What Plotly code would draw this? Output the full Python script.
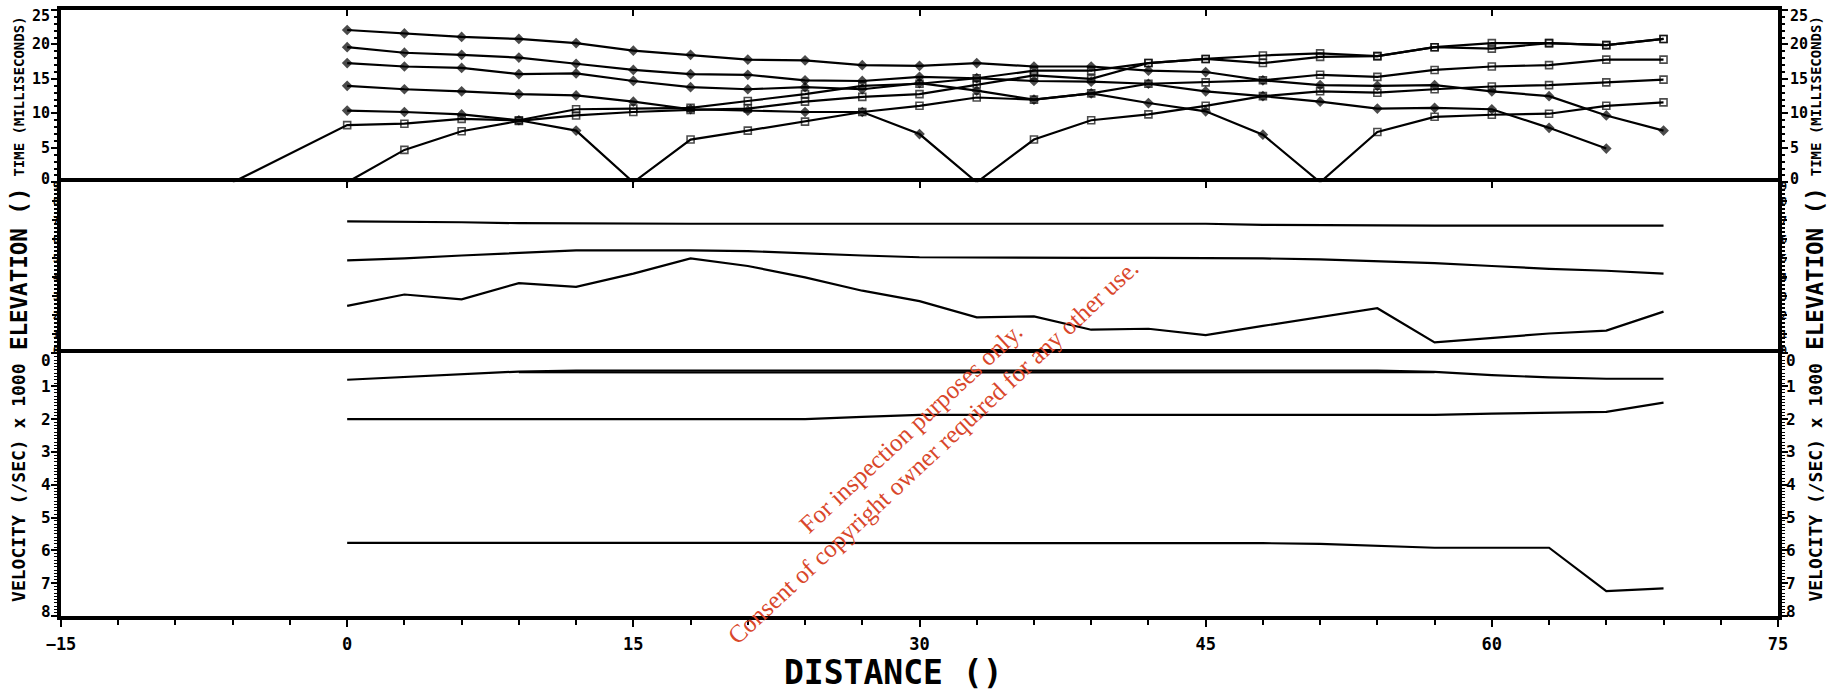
import plotly.graph_objects as go

# ---------------- data ----------------
# geophone stations along the line
stations = [0, 3, 6, 9, 12, 15, 18, 21, 24, 27, 30, 33, 36, 39, 42, 45, 48, 51, 54, 57, 60, 63, 66, 69]

# forward-shot first arrivals (ms) - open squares
fwd_a_x = [-6] + stations
fwd_a_t = [0, 8.3, 8.5, 9.2, 9.0, 10.6, 10.7, 10.8, 11.8, 12.8, 14.0, 14.3, 15.1, 16.2, 16.2,
           17.3, 17.9, 18.4, 18.7, 18.3, 19.6, 20.2, 20.2, 19.9, 20.8]
fwd_b_x = stations
fwd_b_t = [0, 4.7, 7.4, 8.9, 9.7, 10.2, 10.5, 10.7, 11.7, 12.4, 12.8, 14.2, 15.5, 15.0,
           17.3, 17.9, 17.3, 18.2, 18.3, 19.6, 19.4, 20.2, 19.9, 20.8]
fwd_c_x = stations[5:]
fwd_c_t = [0, 6.2, 7.5, 8.8, 10.2, 11.1, 12.3, 12.0, 12.9, 14.3, 14.5, 14.8, 15.6, 15.3,
           16.3, 16.8, 17.0, 17.8, 17.8]
fwd_d_x = stations[11:]
fwd_d_t = [0, 6.2, 9.0, 9.85, 11.1, 12.5, 13.2, 13.0, 13.5, 13.9, 14.1, 14.5, 14.9]
fwd_e_x = stations[17:]
fwd_e_t = [0, 7.3, 9.5, 9.8, 9.95, 11.1, 11.6]

# reverse-shot first arrivals (ms) - filled diamonds
rev_a_x = stations
rev_a_t = [22.1, 21.6, 21.1, 20.8, 20.2, 19.1, 18.5, 17.8, 17.7, 17.0, 16.9, 17.3, 16.8, 16.8,
           16.2, 16.0, 14.8, 14.1, 14.0, 14.1, 13.2, 12.5, 9.7, 7.5]
rev_b_x = stations[:23]
rev_b_t = [19.6, 18.8, 18.5, 18.1, 17.2, 16.3, 15.7, 15.6, 14.8, 14.7, 15.3, 15.1, 14.7, 14.6,
           14.3, 13.2, 12.5, 11.7, 10.7, 10.8, 10.6, 7.9, 4.9]
rev_c_x = stations[:18]
rev_c_t = [17.3, 16.8, 16.6, 15.7, 15.8, 14.7, 13.8, 13.5, 13.8, 13.5, 14.4, 13.3, 12.0, 12.9,
           11.5, 10.3, 6.9, 0]
rev_d_x = stations[:12]
rev_d_t = [14.0, 13.5, 13.2, 12.8, 12.6, 11.7, 10.6, 10.4, 10.2, 10.2, 7.0, 0]
rev_e_x = stations[:6]
rev_e_t = [10.4, 10.2, 9.85, 9.0, 7.5, 0]

# layer elevations
elev_top = [6.95, 6.93, 6.9, 6.85, 6.83, 6.82, 6.82, 6.82, 6.82, 6.82, 6.82, 6.82, 6.82, 6.82,
            6.82, 6.82, 6.76, 6.74, 6.72, 6.72, 6.72, 6.72, 6.72, 6.72]
elev_mid = [4.9, 5.0, 5.15, 5.3, 5.42, 5.42, 5.42, 5.38, 5.25, 5.15, 5.06, 5.04, 5.04, 5.03,
            5.03, 5.03, 5.0, 4.95, 4.85, 4.75, 4.6, 4.45, 4.35, 4.2]
elev_low = [2.5, 3.1, 2.85, 3.7, 3.5, 4.2, 5.0, 4.6, 4.0, 3.3, 2.75, 1.9, 1.95, 1.25, 1.3, 0.97,
            1.45, 1.9, 2.38, 0.58, 0.8, 1.05, 1.2, 2.2]

# layer velocities (x 1000 /sec)
vel_1a = [0.8, 0.72, 0.64, 0.55, 0.52, 0.52, 0.52, 0.52, 0.52, 0.52, 0.52, 0.52, 0.52, 0.52,
          0.52, 0.52, 0.52, 0.52, 0.52, 0.56, 0.66, 0.73, 0.77, 0.77]
vel_1b_x = stations[3:20]
vel_1b = [0.57, 0.58, 0.58, 0.58, 0.58, 0.58, 0.58, 0.58, 0.58, 0.58, 0.58, 0.58, 0.58, 0.58,
          0.58, 0.58, 0.57]
vel_2 = [2.0, 2.0, 2.0, 2.0, 2.0, 2.0, 2.0, 2.0, 2.0, 1.93, 1.87, 1.87, 1.87, 1.87, 1.87, 1.87,
         1.87, 1.87, 1.87, 1.87, 1.83, 1.8, 1.78, 1.5]
vel_3 = [5.77] * 16 + [5.78, 5.8, 5.85, 5.92, 5.92, 5.92, 7.24, 7.16]

# axis tick labels
time_ticks = [0, 5, 10, 15, 20, 25]
elev_ticks = [0, 1, 2, 3, 4, 5, 6, 7, 8, 9]
vel_ticks = [0, 1, 2, 3, 4, 5, 6, 7, 8]
dist_ticks = [-15, 0, 15, 30, 45, 60, 75]

# ---------------- figure ----------------
MONO = "DejaVu Sans Mono"
BORDER = 4
fig = go.Figure()


def time_trace(xs, ts, symbol, size):
    sizes = [0 if t == 0 else size for t in ts]
    return go.Scatter(
        x=xs, y=ts, xaxis="x3", yaxis="y3", mode="lines+markers",
        line=dict(color="black", width=2.2),
        marker=dict(symbol=symbol, size=sizes, color="black",
                    line=dict(color="black", width=1.6)),
        showlegend=False, hoverinfo="skip", cliponaxis=True)


for xs, ts in [(fwd_a_x, fwd_a_t), (fwd_b_x, fwd_b_t), (fwd_c_x, fwd_c_t),
               (fwd_d_x, fwd_d_t), (fwd_e_x, fwd_e_t)]:
    fig.add_trace(time_trace(xs, ts, "square-open", 7))
for xs, ts in [(rev_a_x, rev_a_t), (rev_b_x, rev_b_t), (rev_c_x, rev_c_t),
               (rev_d_x, rev_d_t), (rev_e_x, rev_e_t)]:
    fig.add_trace(time_trace(xs, ts, "diamond", 6.5))

for ev in (elev_top, elev_mid, elev_low):
    fig.add_trace(go.Scatter(x=stations, y=ev, xaxis="x2", yaxis="y2", mode="lines",
                             line=dict(color="black", width=2.2),
                             showlegend=False, hoverinfo="skip"))

for xs, vs in [(stations, vel_1a), (vel_1b_x, vel_1b), (stations, vel_2), (stations, vel_3)]:
    fig.add_trace(go.Scatter(x=xs, y=vs, xaxis="x", yaxis="y", mode="lines",
                             line=dict(color="black", width=2.2),
                             showlegend=False, hoverinfo="skip"))

# panel domains (fraction of plot height)
D_BOT = [0, 0.4332]
D_MID = [0.4332, 0.7157]
D_TOP = [0.7157, 1]
XR = [-15, 75]

top_ticks = dict(ticks="inside", tickvals=dist_ticks[1:-1], ticklen=6, tickwidth=2,
                 tickcolor="black", showticklabels=False)
# upper panels draw only their top edge, the panel below supplies the shared edge
top_edge = dict(showline=True, linecolor="black", linewidth=BORDER, mirror=False,
                showgrid=False, zeroline=False)


def yframe(**kw):
    base = dict(ticks="outside", tickwidth=2, tickcolor="black", showticklabels=False,
                showline=True, linecolor="black", linewidth=BORDER, mirror="ticks",
                showgrid=False, zeroline=False)
    base.update(kw)
    return base


fig.update_layout(
    width=1830, height=691,
    margin=dict(l=61, r=52, t=10, b=75),
    paper_bgcolor="white", plot_bgcolor="white",
    xaxis=dict(domain=[0, 1], range=XR, anchor="y", side="bottom",
               tickvals=dist_ticks, ticks="outside", ticklen=7, tickwidth=2,
               tickcolor="black",
               minor=dict(dtick=3, tick0=-15, ticks="outside", ticklen=5, tickwidth=2,
                          tickcolor="black"),
               tickfont=dict(family=MONO, size=17, color="black", weight="bold"),
               ticklabelstandoff=3,
               showline=True, linecolor="black", linewidth=BORDER, mirror=True,
               showgrid=False, zeroline=False),
    xaxis4=dict(range=XR, overlaying="x", anchor="y", side="top",
                showline=False, showgrid=False, zeroline=False, **top_ticks),
    xaxis2=dict(domain=[0, 1], range=XR, anchor="y2", side="top", **top_ticks, **top_edge),
    xaxis3=dict(domain=[0, 1], range=XR, anchor="y3", side="top", **top_ticks, **top_edge),
    yaxis=yframe(domain=D_BOT, range=[8, 0], anchor="x", tickvals=vel_ticks, ticklen=6,
                 minor=dict(dtick=0.1, ticks="outside", ticklen=3, tickwidth=1,
                            tickcolor="black")),
    yaxis2=yframe(domain=D_MID, range=[0, 9], anchor="x2", tickvals=elev_ticks, ticklen=5,
                  minor=dict(dtick=0.2, ticks="outside", ticklen=3, tickwidth=1.5,
                             tickcolor="black")),
    yaxis3=yframe(domain=D_TOP, range=[0, 25], anchor="x3", tickvals=time_ticks, ticklen=6,
                  minor=dict(dtick=1, ticks="outside", ticklen=3, tickwidth=1.5,
                             tickcolor="black")),
)

ann = []


def axis_labels(values, yref, size, left_shift, right_shift, end_shift):
    for v in values:
        ys = 0
        if v == values[0]:
            ys = end_shift[0]
        elif v == values[-1]:
            ys = end_shift[1]
        for side in ("left", "right"):
            ann.append(dict(
                text=str(v), xref="paper", yref=yref, x=0 if side == "left" else 1, y=v,
                xanchor="right" if side == "left" else "left", yanchor="middle",
                xshift=left_shift if side == "left" else right_shift, yshift=ys,
                showarrow=False, borderpad=0,
                font=dict(family=MONO, size=size, color="black", weight="bold")))


axis_labels(time_ticks, "y3", 15, -10, 11, (3, -6))
axis_labels(elev_ticks, "y2", 10, -1, 2, (3, -4))
axis_labels(vel_ticks, "y", 16, -9, 7, (-7, 5))


def side_title(text, ycen, size):
    for x in (-0.0245, 1.0219):
        ann.append(dict(text=text, xref="paper", yref="paper", x=x, y=ycen,
                        xanchor="center", yanchor="middle", textangle=-90,
                        showarrow=False,
                        font=dict(family=MONO, size=size, color="black", weight="bold")))


side_title("TIME (MILLISECONDS)", 0.857, 14)
side_title("ELEVATION ()", 0.574, 22.5)
side_title("VELOCITY (/SEC) x 1000", 0.2195, 18)

ann.append(dict(text="DISTANCE ()", xref="paper", yref="paper", x=0.4846, y=-0.094,
                xanchor="center", yanchor="middle", showarrow=False,
                font=dict(family=MONO, size=33, color="black", weight="bold")))

ann.append(dict(text="For inspection purposes only.<br>Consent of copyright owner required for any other use.",
                xref="paper", yref="paper", x=0.5015, y=0.29, xanchor="center",
                yanchor="middle", textangle=-43, showarrow=False,
                font=dict(family="Liberation Serif", size=25, color="#d9472b")))

fig.update_layout(annotations=ann)
fig.write_html("out.html")
